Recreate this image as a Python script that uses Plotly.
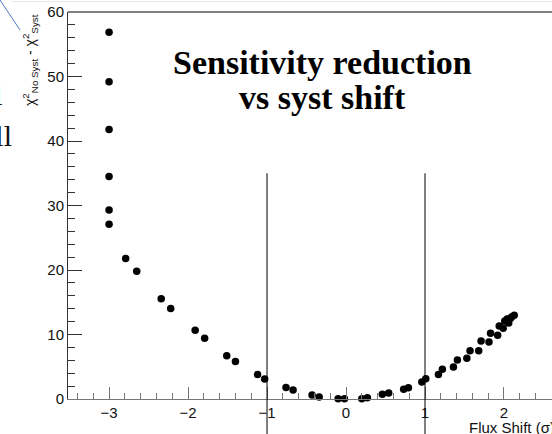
import plotly.graph_objects as go

# Data
flux_shift = [-3.0, -3.0, -3.0, -3.0, -3.0, -3.0,
              -2.79, -2.65, -2.34, -2.22, -1.91, -1.79, -1.51, -1.40, -1.12, -1.03,
              -0.76, -0.67, -0.43, -0.34, -0.10, -0.02, 0.20, 0.27, 0.46, 0.54,
              0.73, 0.79, 0.96, 1.01, 1.17, 1.22, 1.36, 1.41, 1.53, 1.57, 1.68,
              1.71, 1.81, 1.83, 1.92, 1.94, 1.99, 2.01, 2.04, 2.06, 2.08, 2.10, 2.13]
delta_chi2 = [56.85, 49.2, 41.8, 34.5, 29.3, 27.1,
              21.8, 19.8, 15.55, 14.05, 10.65, 9.4, 6.7, 5.8, 3.8, 3.1,
              1.8, 1.4, 0.62, 0.31, 0.05, 0.05, 0.05, 0.2, 0.72, 0.93,
              1.5, 1.76, 2.64, 3.15, 3.8, 4.6, 4.96, 6.05, 6.3, 7.5, 7.5,
              9.0, 8.84, 10.2, 9.9, 11.3, 10.95, 12.1, 12.4, 11.8, 12.5, 12.76, 13.0]
sigma_lines = [-1, 1]
sigma_line_top = 35
title_lines = ["Sensitivity reduction", "vs syst shift"]

x_range = [-3.52, 2.608]
y_range = [0, 60]

fig = go.Figure()
fig.add_trace(go.Scatter(
    x=flux_shift, y=delta_chi2, mode="markers",
    marker=dict(color="black", size=7.5, symbol="circle"),
    cliponaxis=False, showlegend=False,
))

axis_font = dict(family="Liberation Sans, Arial, sans-serif", size=15, color="#111")

fig.update_xaxes(
    range=x_range, showgrid=False, zeroline=False,
    showline=True, linecolor="#777", linewidth=1,
    ticks="inside", ticklen=12, tickcolor="#777", tickwidth=1,
    tickmode="array", tickvals=[-3, -2, -1, 0, 1, 2],
    tickfont=axis_font,
    minor=dict(ticks="inside", ticklen=6, dtick=0.2, tick0=0, tickcolor="#777", showgrid=False),
)
fig.update_yaxes(
    range=y_range, showgrid=False, zeroline=False,
    showline=True, linecolor="#333", linewidth=1,
    ticks="inside", ticklen=14, tickcolor="#333", tickwidth=1,
    dtick=10, tick0=0, tickfont=axis_font,
    minor=dict(ticks="inside", ticklen=7, dtick=2, tick0=0, tickcolor="#333", showgrid=False),
)

shapes = []
for xv in sigma_lines:
    shapes.append(dict(type="line", xref="x", yref="paper",
                       x0=xv, x1=xv, y0=-0.12, y1=sigma_line_top / y_range[1],
                       line=dict(color="black", width=1)))
# top frame line
shapes.append(dict(type="line", xref="paper", yref="paper", x0=0, x1=1.02, y0=1, y1=1,
                   line=dict(color="#555", width=1.5)))
# faint canvas border near top
shapes.append(dict(type="line", xref="paper", yref="paper",
                   x0=(12 - 68) / 484, x1=1.02, y0=(399 - 1.5) / 387, y1=(399 - 1.5) / 387,
                   line=dict(color="#e8e8e8", width=1)))
# blue line at top-left corner
shapes.append(dict(type="line", xref="paper", yref="paper",
                   x0=(0 - 68) / 484, y0=(399 - 0) / 387,
                   x1=(20 - 68) / 484, y1=(399 - 30) / 387,
                   line=dict(color="#4a78c0", width=1)))

title_font = dict(family="Liberation Serif, Times New Roman, serif", size=34, color="black")
annotations = [
    dict(text="<b>" + title_lines[0] + "</b>", xref="paper", yref="paper",
         x=(322 - 68) / 484, y=(399 - 62) / 387, xanchor="center", yanchor="middle",
         showarrow=False, font=title_font),
    dict(text="<b>" + title_lines[1] + "</b>", xref="paper", yref="paper",
         x=(322 - 68) / 484, y=(399 - 97) / 387, xanchor="center", yanchor="middle",
         showarrow=False, font=title_font),
    dict(text="χ<sup>2</sup><sub>No Syst</sub> - χ<sup>2</sup><sub>Syst</sub>",
         xref="paper", yref="paper", x=(30 - 68) / 484, y=1.0,
         xanchor="center", yanchor="top", textangle=-90, showarrow=False,
         font=dict(family="Liberation Sans, Arial, sans-serif", size=14, color="#111")),
    dict(text="Flux Shift (σ)", xref="paper", yref="paper",
         x=(467 - 68) / 484, y=(399 - 427) / 387, xanchor="left", yanchor="middle",
         showarrow=False, font=dict(family="Liberation Sans, Arial, sans-serif", size=15, color="#111")),
    # cut-off text at left edge
    dict(text="al", xref="paper", yref="paper",
         x=(5 - 68) / 484, y=(399 - 95) / 387, xanchor="right", yanchor="middle",
         showarrow=False, font=dict(family="Liberation Serif, Times New Roman, serif", size=30, color="#111")),
    dict(text="all", xref="paper", yref="paper",
         x=(14 - 68) / 484, y=(399 - 135) / 387, xanchor="right", yanchor="middle",
         showarrow=False, font=dict(family="Liberation Serif, Times New Roman, serif", size=30, color="#111")),
]

fig.update_layout(
    width=552, height=434,
    margin=dict(l=68, r=0, t=12, b=35, pad=0, autoexpand=False),
    paper_bgcolor="white", plot_bgcolor="white",
    shapes=shapes, annotations=annotations, showlegend=False,
)

fig.write_html("out.html")
